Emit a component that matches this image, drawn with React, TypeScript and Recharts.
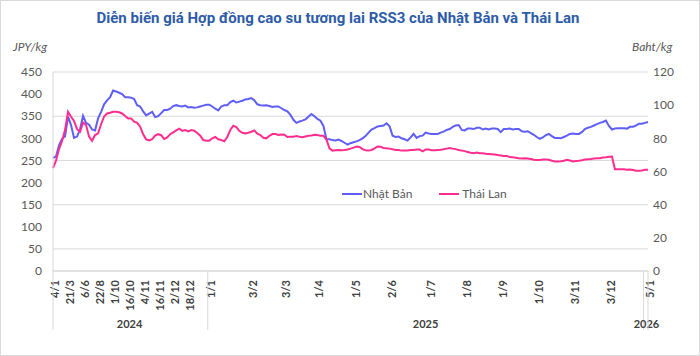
import React from "react";
import { CartesianGrid, Legend, Line, LineChart, XAxis, YAxis } from "recharts";

// segment start dates; each segment's first point carries the tick label
const dates = [
  "4/1/2024", "21/3/2024", "6/6/2024", "22/8/2024", "1/10/2024", "16/10/2024",
  "4/11/2024", "16/11/2024", "2/12/2024", "18/12/2024",
  "1/1/2025", "3/2/2025", "3/3/2025", "1/4/2025", "1/5/2025", "2/6/2025",
  "1/7/2025", "1/8/2025", "1/9/2025", "1/10/2025", "3/11/2025", "3/12/2025",
  "2/1/2026", "5/1/2026",
];
const hiddenTicks = ["2/1/2026"];

// JPY/kg
const japan = [
  [255, 259, 284, 299, 304],
  [349, 330, 301, 304, 320],
  [351, 335, 331, 320, 318],
  [345, 360, 377, 386, 393],
  [408, 406, 403, 400, 393],
  [393, 392, 389, 375, 372],
  [361, 352, 356, 360, 348],
  [350, 357, 364, 364, 367],
  [373, 375, 373, 372, 374],
  [370, 371, 369, 370, 372, 374, 376],
  [376, 372, 367, 363, 372, 375, 375, 382, 385, 381, 383, 385, 388, 389],
  [391, 386, 377, 375, 374, 375, 373, 371, 372, 372, 368],
  [364, 361, 353, 342, 335, 338, 340, 343, 349, 355, 350],
  [344, 340, 328, 298, 298, 296, 295, 297, 294, 290, 286, 289],
  [291, 293, 296, 300, 305, 313, 320, 323, 327, 328, 329, 334],
  [327, 306, 303, 304, 300, 298, 295, 302, 310, 301, 305, 306, 313],
  [311, 310, 310, 310, 313, 315, 319, 321, 326, 329, 330, 319],
  [318, 322, 322, 321, 324, 324, 320, 322, 320, 322, 322, 321],
  [314, 321, 321, 322, 320, 321, 321, 316, 315, 316, 312, 308],
  [303, 299, 302, 307, 310, 305, 301, 301, 300, 303, 306, 310],
  [311, 310, 310, 314, 321, 324, 326, 329, 332, 335, 337, 340],
  [328, 320, 322, 323, 323, 323, 322, 326, 326, 329, 333, 333],
  [335],
  [337],
];

// Baht/kg
const thai = [
  [62, 66.5, 73.5, 78.3, 85],
  [96, 93, 90.5, 85.5, 84],
  [89.5, 88, 81, 78.5, 82],
  [83, 88.5, 93.2, 95, 95.4],
  [96, 96, 95.7, 95, 93.5],
  [92, 92, 90, 89.3, 87],
  [82.5, 79.4, 78.8, 79.5, 81.6],
  [82.5, 81.9, 79.6, 80.5, 82.5],
  [83.6, 84.8, 85.8, 84.5, 85],
  [84.2, 85, 84.6, 83.2, 81.6, 79, 78.6],
  [78.6, 80, 80.8, 79.4, 79, 78.2, 80.8, 85, 87.6, 86.8, 84.5, 83.3, 83, 83.4],
  [84, 84.8, 82.8, 82, 80.3, 80, 81.5, 82.6, 82.6, 82, 82.3],
  [82.2, 80.8, 81, 81, 81.4, 81, 80.7, 81.1, 81.5, 81.7, 82.2],
  [82, 81.5, 81.5, 79.3, 74, 72.6, 72.8, 73, 72.8, 73, 73.3, 73.8],
  [74.4, 75.1, 74.8, 73.5, 72.8, 72.6, 73, 74, 75, 74.9, 74.2, 74],
  [73.8, 73.4, 73, 73, 72.6, 72.6, 72.6, 72.9, 73, 73.2, 73.2, 72.2, 73.2],
  [73.2, 72.8, 72.8, 73, 73.1, 73.4, 73.8, 74.2, 73.8, 73.5, 73, 72.6],
  [72.3, 71.8, 71.3, 71, 71.4, 71, 71, 70.7, 70.6, 70.4, 70.2, 69.9],
  [69.7, 69.4, 69.4, 68.7, 68.6, 68.3, 68, 67.8, 68, 67.8, 67.5, 67.1],
  [67, 67, 67.2, 67.3, 67.1, 66.5, 66, 66.1, 66.2, 66.5, 67, 66.6],
  [66.1, 66.3, 66.5, 66.8, 67.2, 67.4, 67.5, 67.8, 68, 68, 68.4, 68.6],
  [68.9, 69, 61.3, 61.3, 61.3, 61.3, 61.1, 61.2, 60.9, 60.5, 60.5, 60.6],
  [61],
  [61],
];

const leftTicks = [0, 50, 100, 150, 200, 250, 300, 350, 400, 450];
const rightTicks = [0, 20, 40, 60, 80, 100, 120];

type Row = { key: string; label: string; year: string; japan: number; thai: number };

const rows: Row[] = [];
dates.forEach((d, s) => {
  const [day, month, year] = d.split("/");
  japan[s].forEach((v, k) => {
    rows.push({
      key: k === 0 ? d : `${d}#${k}`,
      label: k === 0 && !hiddenTicks.includes(d) ? `${day}/${month}` : "",
      year,
      japan: v,
      thai: thai[s][k],
    });
  });
});
const keyIndex = new Map(rows.map((r, i) => [r.key, i]));
const years = Array.from(new Set(rows.map((r) => r.year))).map((year) => ({
  year,
  first: rows.findIndex((r) => r.year === year),
  last: rows.length - 1 - [...rows].reverse().findIndex((r) => r.year === year),
}));

const W = 700;
const H = 356;
const LEFT_W = 53;
const RIGHT_W = 52;
const TOP = 72;
const X_H = 85;
const step = (W - LEFT_W - RIGHT_W) / (rows.length - 1);

const grey = "#d9d9d9";
const font = "Lato, 'Open Sans', sans-serif";

function XTick(props: any) {
  const { x, y, payload } = props;
  const i = keyIndex.get(payload.value);
  if (i === undefined) return null;
  const row = rows[i];
  const yr = years.find((r) => r.year === row.year)!;
  const mid = (yr.first + yr.last) / 2;
  const lx = x + 6;
  const ly = y + 9;
  return (
    <g>
      {row.label && (
        <text
          x={lx}
          y={ly}
          transform={`rotate(-90 ${lx} ${ly})`}
          textAnchor="end"
          fontSize={11}
          fontWeight={700}
          fill="#404040"
          fontFamily={font}
        >
          {row.label}
        </text>
      )}
      {i === yr.first && (
        <line x1={i === 0 ? x : x - step / 2} x2={i === 0 ? x : x - step / 2} y1={y} y2={y + 59} stroke={grey} />
      )}
      {i === rows.length - 1 && <line x1={x} x2={x} y1={y} y2={y + 59} stroke={grey} />}
      {i === Math.floor(mid) && (
        <text
          x={x + (mid - i) * step}
          y={y + 57}
          textAnchor="middle"
          fontSize={11}
          fontWeight={700}
          fill="#404040"
          fontFamily={font}
        >
          {row.year}
        </text>
      )}
    </g>
  );
}

function LegendContent({ payload }: any) {
  return (
    <div style={{ display: "flex", alignItems: "center", fontFamily: font, fontSize: 12, color: "#595959" }}>
      {(payload || []).map((p: any, n: number) => (
        <div key={p.value} style={{ display: "flex", alignItems: "center", marginRight: n === 0 ? 27 : 0 }}>
          <svg width={20} height={10} style={{ marginRight: n === 0 ? 1 : 3 }}>
            <line x1={0} x2={20} y1={5} y2={5} stroke={p.color} strokeWidth={2} />
          </svg>
          <span>{p.value}</span>
        </div>
      ))}
    </div>
  );
}

export default function App() {
  return (
    <div style={{ position: "absolute", left: 0, top: 0, width: W, height: H, background: "#fff" }}>
      <div
        style={{
          position: "absolute",
          left: 0,
          top: 9,
          width: 676,
          textAlign: "center",
          fontFamily: "Roboto, sans-serif",
          fontWeight: 700,
          fontSize: 15,
          color: "#2e5ca8",
        }}
      >
        Diễn biến giá Hợp đồng cao su tương lai RSS3 của Nhật Bản và Thái Lan
      </div>
      <div style={{ position: "absolute", left: 13, top: 39, fontFamily: font, fontStyle: "italic", fontSize: 12, color: "#595959" }}>
        JPY/kg
      </div>
      <div style={{ position: "absolute", left: 632, top: 39, fontFamily: font, fontStyle: "italic", fontSize: 12, color: "#595959" }}>
        Baht/kg
      </div>
      <LineChart width={W} height={H} data={rows} margin={{ top: TOP, right: 0, bottom: 0, left: 0 }}>
        <CartesianGrid yAxisId="left" vertical={false} stroke={grey} />
        <XAxis
          dataKey="key"
          interval={0}
          height={X_H}
          tick={<XTick />}
          tickLine={false}
          tickSize={0}
          tickMargin={0}
          axisLine={{ stroke: grey }}
        />
        <YAxis
          yAxisId="left"
          domain={[0, 450]}
          ticks={leftTicks}
          width={LEFT_W}
          tickLine={false}
          tickSize={0}
          tickMargin={11}
          axisLine={{ stroke: grey }}
          tick={{ fontSize: 12, fill: "#595959", fontFamily: font }}
        />
        <YAxis
          yAxisId="right"
          orientation="right"
          domain={[0, 120]}
          ticks={rightTicks}
          width={RIGHT_W}
          tickLine={false}
          tickSize={0}
          tickMargin={5}
          axisLine={false}
          tick={{ fontSize: 12, fill: "#595959", fontFamily: font }}
        />
        <Legend
          layout="horizontal"
          verticalAlign="middle"
          align="center"
          wrapperStyle={{ top: 186, left: 342, width: "auto" }}
          content={<LegendContent />}
        />
        <Line
          yAxisId="left"
          type="linear"
          dataKey="japan"
          name="Nhật Bản"
          stroke="#5f5ff7"
          strokeWidth={2}
          dot={false}
          isAnimationActive={false}
        />
        <Line
          yAxisId="right"
          type="linear"
          dataKey="thai"
          name="Thái Lan"
          stroke="#ff2d8d"
          strokeWidth={2}
          dot={false}
          isAnimationActive={false}
        />
      </LineChart>
      <div
        style={{
          position: "absolute",
          left: 0,
          top: 0,
          width: W,
          height: H,
          boxSizing: "border-box",
          border: `1px solid ${grey}`,
          pointerEvents: "none",
        }}
      />
    </div>
  );
}
